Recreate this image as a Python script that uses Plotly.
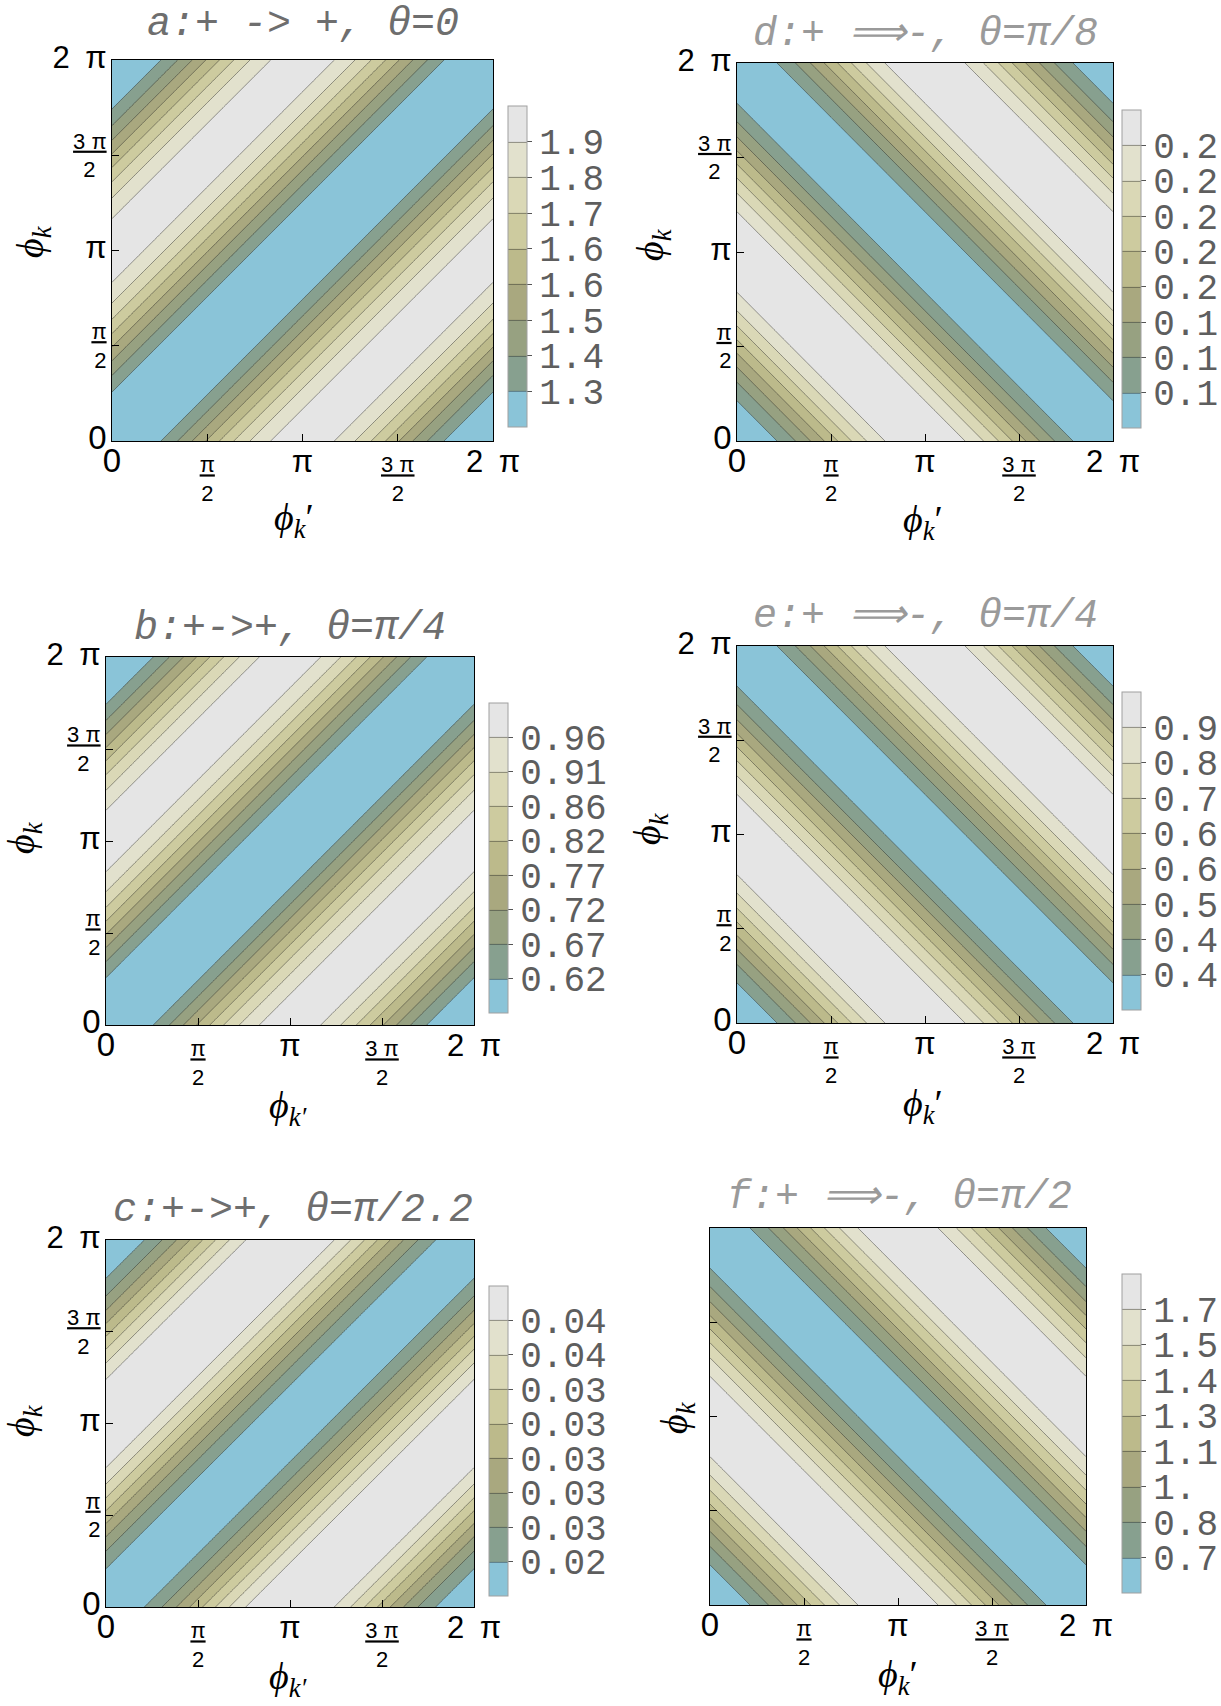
import math
import plotly.graph_objects as go

W, H = 1221, 1706
PI = math.pi
N = 24                      # grid steps over [0, 2π]
phi = [k * PI / 12 for k in range(N + 1)]

# ---- values ------------------------------------------------------------
# z profile at Δ = 0, π/12, ..., π  (Δ = φk - φk' for a,b,c ; φk + φk' for d,e,f)
prof_a = [1.1804, 1.1936, 1.2321, 1.2934, 1.3733, 1.4663, 1.5661, 1.6659, 1.7589, 1.8388, 1.9001, 1.9386, 1.9517]
prof_b = [0.5556, 0.5630, 0.5847, 0.6193, 0.6643, 0.7167, 0.7730, 0.8292, 0.8816, 0.9267, 0.9612, 0.9829, 0.9903]
prof_c = [0.02263, 0.02293, 0.02380, 0.02520, 0.02703, 0.02915, 0.03142, 0.03370, 0.03582, 0.03764, 0.03904, 0.03992, 0.04022]
prof_d = [0.1080, 0.10985, 0.11525, 0.12383, 0.13501, 0.14803, 0.16201, 0.17599, 0.18901, 0.20020, 0.20878, 0.21418, 0.21601]
prof_e = [0.3090, 0.31947, 0.35007, 0.39869, 0.46207, 0.53585, 0.61507, 0.69429, 0.76807, 0.83144, 0.88006, 0.91066, 0.92107]
prof_f = [0.5480, 0.56987, 0.63377, 0.73530, 0.86764, 1.02171, 1.18714, 1.35257, 1.50664, 1.63899, 1.74052, 1.80442, 1.82614]

# contour levels: first level and spacing (8 levels each)
start_a, step_a = 1.3, 0.0857
start_b, step_b = 0.623, 0.0483
start_c, step_c = 0.0245, 0.0019
start_d, step_d = 0.12, 0.012
start_e, step_e = 0.377, 0.068
start_f, step_f = 0.69, 0.142

labels_a = ["1.3", "1.4", "1.5", "1.6", "1.6", "1.7", "1.8", "1.9"]
labels_b = ["0.62", "0.67", "0.72", "0.77", "0.82", "0.86", "0.91", "0.96"]
labels_c = ["0.02", "0.03", "0.03", "0.03", "0.03", "0.03", "0.04", "0.04"]
labels_d = ["0.1", "0.1", "0.1", "0.2", "0.2", "0.2", "0.2", "0.2"]
labels_e = ["0.4", "0.4", "0.5", "0.6", "0.6", "0.7", "0.8", "0.9"]
labels_f = ["0.7", "0.8", "1.", "1.1", "1.3", "1.4", "1.5", "1.7"]

titles = {
    "a": "a:+ -> +, θ=0",
    "b": "b:+->+, θ=π/4",
    "c": "c:+->+, θ=π/2.2",
    "d": "d:+ ⟹-, θ=π/8",
    "e": "e:+ ⟹-, θ=π/4",
    "f": "f:+ ⟹-, θ=π/2",
}

tick_vals = [0, PI / 2, PI, 3 * PI / 2, 2 * PI]
xtick_text = ['<span style="font-size:33px">0</span>', '<u>π</u><br>2',
              '<span style="font-size:31px">π</span>', '<u>3 π</u><br>2',
              '<span style="font-size:31px">2\u2002π</span>']
ytick_text = ['<span style="font-size:33px">0</span>', '<u>π</u><br>2',
              '<span style="font-size:31px">π</span>', '<u>3 π</u><br>2\u2002',
              '<span style="font-size:31px">2\u2002π</span>']

band_colors = ["#8ac4d8", "#87a08f", "#97a181", "#a9a87f", "#bcba8b",
               "#cdcb9f", "#dad8b6", "#e2e1cd", "#e5e5e5"]
colorscale = [[i / 8, c] for i, c in enumerate(band_colors)]

# ---- layout geometry (pixels) ------------------------------------------
geom = {
    #      x0     x1     y0     y1    cbx    cby0   cby1
    "a": (112, 493, 60, 441, 508, 106, 427),
    "b": (106, 474, 657, 1025, 489, 703, 1013),
    "c": (106, 474, 1240, 1607, 489, 1286, 1596),
    "d": (737, 1113, 63, 441, 1122, 110, 428),
    "e": (737, 1113, 646, 1023, 1122, 692, 1010),
    "f": (710, 1086, 1228, 1605, 1122, 1274, 1593),
}
# text anchor points (pixels): title, x-axis title, y-axis title
title_pos = {"a": (303, 24), "b": (290, 629), "c": (293, 1210),
             "d": (926, 35), "e": (926, 616), "f": (899, 1197)}
xtitle_pos = {"a": (294, 520), "b": (288, 1108), "c": (288, 1679),
              "d": (923, 522), "e": (923, 1106), "f": (898, 1677)}
ytitle_pos = {"a": (33, 242), "b": (24, 838), "c": (24, 1421),
              "d": (653, 245), "e": (650, 829), "f": (677, 1418)}

kind = {"a": "diff", "b": "diff", "c": "diff", "d": "sum", "e": "sum", "f": "sum"}
profiles = {"a": prof_a, "b": prof_b, "c": prof_c, "d": prof_d, "e": prof_e, "f": prof_f}
starts = {"a": (start_a, step_a), "b": (start_b, step_b), "c": (start_c, step_c),
          "d": (start_d, step_d), "e": (start_e, step_e), "f": (start_f, step_f)}
labels = {"a": labels_a, "b": labels_b, "c": labels_c, "d": labels_d, "e": labels_e, "f": labels_f}
title_col = {"a": "#6e6e6e", "b": "#6e6e6e", "c": "#6e6e6e", "d": "#9a9a9a", "e": "#9a9a9a", "f": "#9a9a9a"}
xtitle_txt = {"a": "<i>ϕ</i><sub><i>k</i></sub>′", "b": "<i>ϕ</i><sub><i>k′</i></sub>",
              "c": "<i>ϕ</i><sub><i>k′</i></sub>", "d": "<i>ϕ</i><sub><i>k</i></sub>′",
              "e": "<i>ϕ</i><sub><i>k</i></sub>′", "f": "<i>ϕ</i><sub><i>k</i></sub>′"}


def px(x):
    return x / W


def py(y):
    return 1 - y / H


fig = go.Figure()
annotations = []
layout = {}
order = ["a", "d", "b", "e", "c", "f"]
for n, p in enumerate(order, start=1):
    x0, x1, y0, y1, cbx, cby0, cby1 = geom[p]
    prof = profiles[p]
    z = []
    for i in range(N + 1):
        row = []
        for j in range(N + 1):
            d = (i - j) % N if kind[p] == "diff" else (i + j) % N
            row.append(prof[min(d, N - d)])
        z.append(row)
    L1, s = starts[p]
    levels = [L1 + m * s for m in range(8)]
    xa = "x" if n == 1 else f"x{n}"
    ya = "y" if n == 1 else f"y{n}"
    fig.add_trace(go.Contour(
        x=phi, y=phi, z=z, xaxis=xa, yaxis=ya,
        autocontour=False,
        contours=dict(start=L1, end=L1 + 7.5 * s, size=s, coloring="fill", showlines=True),
        zmin=L1 - s, zmax=L1 + 8 * s,
        colorscale=colorscale,
        line=dict(color="rgba(30,30,30,0.55)", width=0.8, smoothing=0),
        hoverinfo="skip",
        colorbar=dict(
            x=px(cbx), xanchor="left", xpad=0,
            y=py((cby0 + cby1) / 2), yanchor="middle", ypad=0,
            len=(cby1 - cby0) / H, lenmode="fraction",
            thickness=19, thicknessmode="pixels",
            outlinewidth=1, outlinecolor="#a0a0a0",
            tickmode="array", tickvals=levels, ticktext=labels[p],
            ticks="outside", ticklen=5, tickwidth=1, tickcolor="#555555",
            tickfont=dict(family="Liberation Mono", size=36, color="#5e5e5e"),
        ),
    ))
    axkey = "xaxis" if n == 1 else f"xaxis{n}"
    aykey = "yaxis" if n == 1 else f"yaxis{n}"
    common = dict(range=[0, 2 * PI], tickmode="array", tickvals=tick_vals,
                  ticks="inside", ticklen=7, tickcolor="black", tickwidth=1,
                  showline=True, linecolor="black", linewidth=1, mirror=True,
                  showgrid=False, zeroline=False,
                  tickfont=dict(family="Liberation Sans", size=22, color="black"))
    layout[axkey] = dict(common, domain=[px(x0), px(x1)], anchor=ya, ticktext=xtick_text,
                         ticklabelstandoff=4)
    layout[aykey] = dict(common, domain=[py(y1), py(y0)], anchor=xa, ticktext=ytick_text,
                         showticklabels=(p != "f"))
    tx, ty = title_pos[p]
    annotations.append(dict(text=f"<i>{titles[p]}</i>", x=px(tx), y=py(ty),
                            xref="paper", yref="paper", xanchor="center", yanchor="middle",
                            showarrow=False,
                            font=dict(family="Liberation Mono", size=40, color=title_col[p])))
    ax_, ay_ = xtitle_pos[p]
    annotations.append(dict(text=xtitle_txt[p], x=px(ax_), y=py(ay_), xref="paper", yref="paper",
                            xanchor="center", yanchor="middle", showarrow=False,
                            font=dict(family="Liberation Serif", size=38, color="black")))
    bx_, by_ = ytitle_pos[p]
    annotations.append(dict(text="<i>ϕ</i><sub><i>k</i></sub>", x=px(bx_), y=py(by_),
                            xref="paper", yref="paper",
                            xanchor="center", yanchor="middle",
                            textangle=-90, showarrow=False,
                            font=dict(family="Liberation Serif", size=38, color="black")))

fig.update_layout(width=W, height=H, margin=dict(l=0, r=0, t=0, b=0, autoexpand=False),
                  paper_bgcolor="white", plot_bgcolor="white",
                  showlegend=False, annotations=annotations, **layout)
fig.write_html("out.html")
